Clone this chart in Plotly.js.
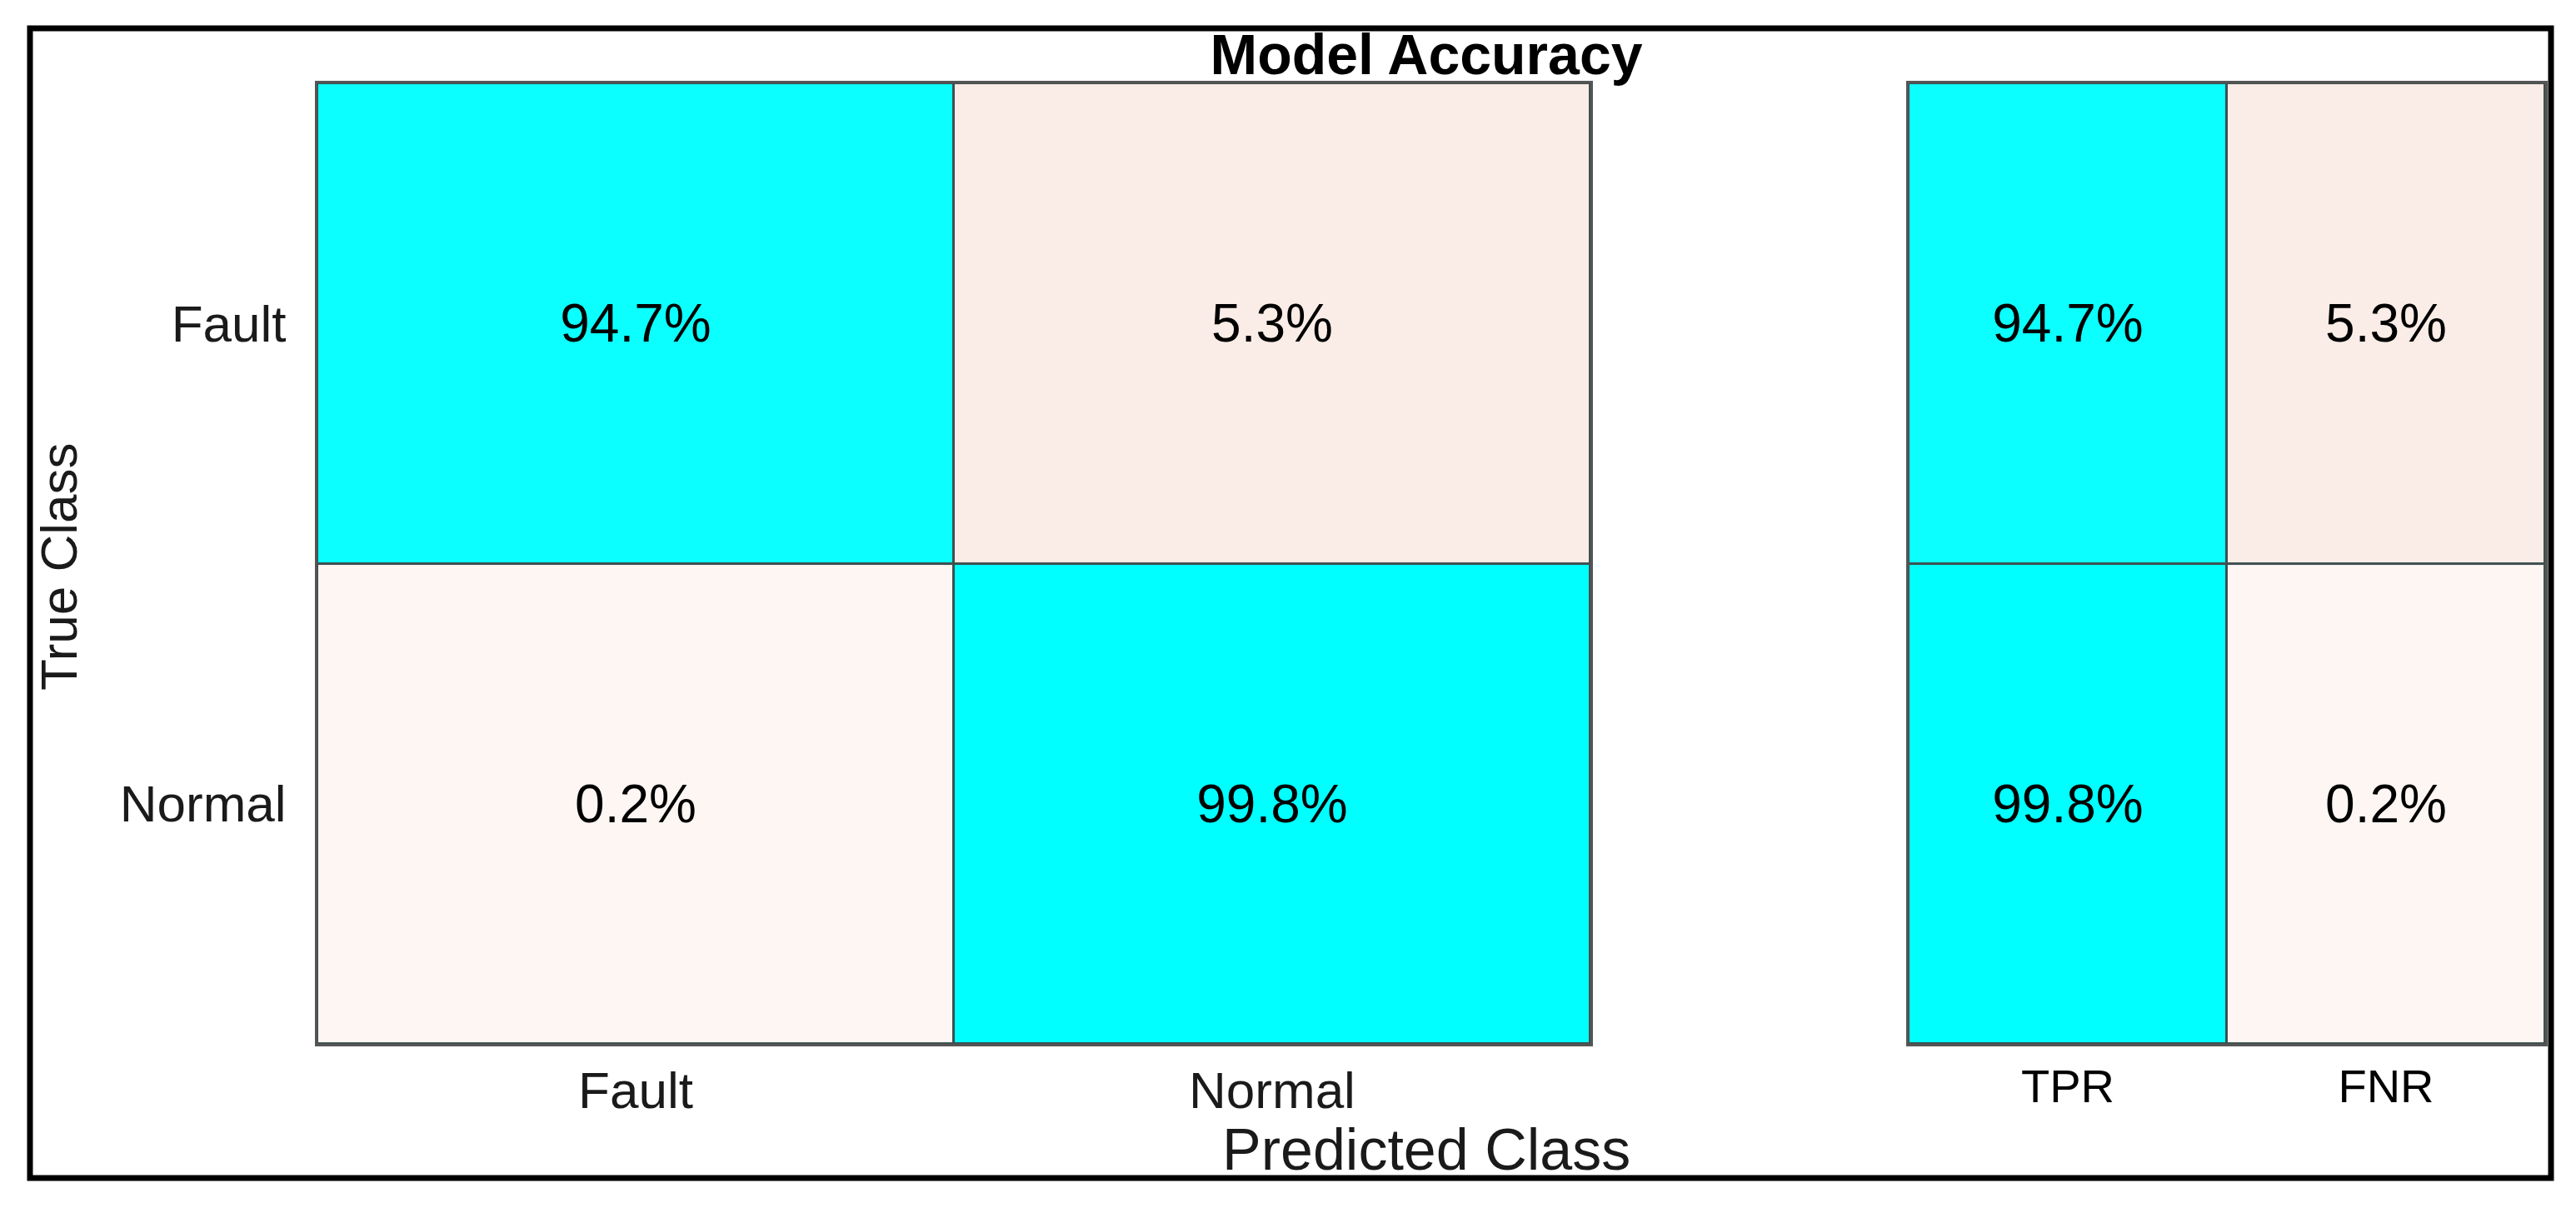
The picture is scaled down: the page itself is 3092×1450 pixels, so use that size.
<!DOCTYPE html>
<html>
<head>
<meta charset="utf-8">
<script src="https://cdn.plot.ly/plotly-3.0.1.min.js"></script>
<style>
  html, body { margin: 0; padding: 0; background: #ffffff; }
  #chart { width: 3092px; height: 1450px; }
</style>
</head>
<body>
<div id="chart"></div>
<script>
// ---- data ----
const trueClasses = ['Fault', 'Normal'];
const predClasses = ['Fault', 'Normal'];
const confusionPct = [
  [94.7, 5.3],
  [0.2, 99.8]
];
const rateLabels = ['TPR', 'FNR'];
const ratePct = [
  [94.7, 5.3],
  [99.8, 0.2]
];
const chartTitle = 'Model Accuracy';
const xTitle = 'Predicted Class';
const yTitle = 'True Class';

// ---- style ----
const FONT = '"Liberation Sans", Arial, Helvetica, sans-serif';
const colorscale = [
  [0.0, 'rgb(253,246,243)'],
  [0.053, 'rgb(250,236,230)'],
  [0.947, 'rgb(12,255,255)'],
  [1.0, 'rgb(0,255,255)']
];

const common = {
  type: 'heatmap',
  colorscale: colorscale,
  zmin: 0, zmax: 100,
  showscale: false,
  xgap: 3, ygap: 3,
  texttemplate: '%{z:.1f}%',
  textfont: { family: FONT, size: 64, color: '#000000' },
  hoverinfo: 'skip'
};

const traces = [
  Object.assign({}, common, {
    x: predClasses, y: trueClasses, z: confusionPct,
    xaxis: 'x', yaxis: 'y'
  }),
  Object.assign({}, common, {
    x: rateLabels, y: trueClasses, z: ratePct,
    xaxis: 'x2', yaxis: 'y2'
  })
];

const axisLine = { showline: true, mirror: true, linecolor: '#555555', linewidth: 3,
                   showgrid: false, zeroline: false, ticks: '' };

const layout = {
  width: 3092, height: 1450, autosize: false,
  margin: { l: 0, r: 0, t: 0, b: 0, pad: 0 },
  paper_bgcolor: '#ffffff',
  plot_bgcolor: '#3f4f4f',
  font: { family: FONT, color: '#1a1a1a' },
  showlegend: false,
  title: {
    text: '<b>' + chartTitle + '</b>',
    font: { family: FONT, size: 68, color: '#000000' },
    x: 0.5537, xanchor: 'center',
    y: 0.955, yanchor: 'middle'
  },
  xaxis: Object.assign({}, axisLine, {
    domain: [0.12322, 0.61740], anchor: 'y', type: 'category',
    tickfont: { family: FONT, size: 62, color: '#1a1a1a' },
    ticklabelstandoff: 0
  }),
  yaxis: Object.assign({}, axisLine, {
    domain: [0.13586, 0.93103], anchor: 'x', type: 'category',
    autorange: 'reversed',
    tickfont: { family: FONT, size: 62, color: '#1a1a1a' },
    ticklabelstandoff: 22
  }),
  xaxis2: Object.assign({}, axisLine, {
    domain: [0.74094, 0.98803], anchor: 'y2', type: 'category',
    tickfont: { family: FONT, size: 56, color: '#000000' },
    ticklabelstandoff: 0
  }),
  yaxis2: Object.assign({}, axisLine, {
    domain: [0.13586, 0.93103], anchor: 'x2', type: 'category',
    autorange: 'reversed', showticklabels: false
  }),
  annotations: [
    {
      text: xTitle, xref: 'paper', yref: 'paper',
      x: 0.5537, y: 0.048, xanchor: 'center', yanchor: 'middle',
      showarrow: false,
      font: { family: FONT, size: 70, color: '#1a1a1a' }
    },
    {
      text: yTitle, xref: 'paper', yref: 'paper',
      x: 0.0226, y: 0.531, xanchor: 'center', yanchor: 'middle',
      textangle: -90, showarrow: false,
      font: { family: FONT, size: 62, color: '#1a1a1a' }
    }
  ],
  shapes: [
    {
      type: 'rect', xref: 'paper', yref: 'paper',
      x0: 0.01164, x1: 0.99030, y0: 0.02483, y1: 0.97655,
      line: { color: '#000000', width: 7 }, fillcolor: 'rgba(0,0,0,0)',
      layer: 'above'
    }
  ]
};

Plotly.newPlot('chart', traces, layout, { displayModeBar: false, staticPlot: true });
</script>
</body>
</html>
